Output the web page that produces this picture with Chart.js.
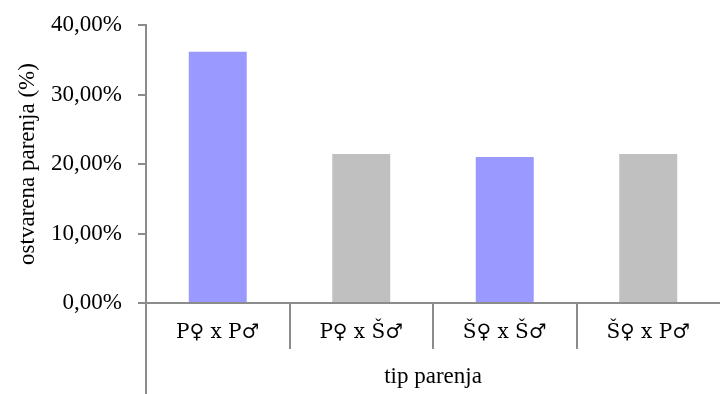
<!DOCTYPE html>
<html>
<head>
<meta charset="utf-8">
<script src="https://cdn.jsdelivr.net/npm/chart.js@4/dist/chart.umd.min.js"></script>
<style>
  html, body { margin: 0; padding: 0; background: #ffffff; overflow: hidden; }
  canvas { display: block; }
</style>
</head>
<body>
<canvas id="chart" width="720" height="394"></canvas>
<script>
// Mating success by mating type
const categories = ['P\u2640 x P\u2642', 'P\u2640 x \u0160\u2642', '\u0160\u2640 x \u0160\u2642', '\u0160\u2640 x P\u2642'];
const successRate = [36.15, 21.45, 21.0, 21.45];
const barColors = ['#9999ff', '#c0c0c0', '#9999ff', '#c0c0c0'];
const yTicks = [0, 10, 20, 30, 40];

const AXIS_COLOR = '#8c8c8c';
const FONT = { family: '"Liberation Serif", "Times New Roman", serif', size: 23 };
const CAT_FONT = { family: '"DejaVu Serif", serif', size: 20 };

// The value axis line continues below the category axis to the canvas edge
const axisExtend = {
  id: 'axisExtend',
  afterDraw(chart) {
    const { ctx, chartArea, height } = chart;
    const x0 = chart.scales.x.left;
    ctx.save();
    ctx.strokeStyle = AXIS_COLOR;
    ctx.lineWidth = 2;
    ctx.beginPath();
    ctx.moveTo(x0, chartArea.bottom);
    ctx.lineTo(x0, height);
    ctx.stroke();
    ctx.restore();
  }
};

new Chart(document.getElementById('chart'), {
  type: 'bar',
  data: {
    labels: categories,
    datasets: [{
      data: successRate,
      backgroundColor: barColors,
      borderWidth: 0,
      barPercentage: 0.404,
      categoryPercentage: 1.0
    }]
  },
  options: {
    responsive: false,
    animation: false,
    layout: { padding: { top: 25, right: -10, left: 0, bottom: 0 } },
    plugins: { legend: { display: false }, tooltip: { enabled: false } },
    scales: {
      x: {
        afterFit(scale) { scale.height = 91; },
        border: { display: true, color: AXIS_COLOR, width: 2 },
        grid: {
          offset: true,
          drawOnChartArea: false,
          tickLength: 46,
          lineWidth: 2,
          color: (ctx) => ctx.type === 'tick' ? AXIS_COLOR : 'rgba(0,0,0,0)'
        },
        ticks: { color: '#000', font: CAT_FONT, padding: -28, maxRotation: 0 },
        title: {
          display: true,
          text: 'tip parenja',
          color: '#000',
          font: FONT,
          padding: { top: 0, bottom: 3 }
        }
      },
      y: {
        min: 0,
        max: 40,
        afterFit(scale) {
          scale.width = 146;
          scale.paddingTop = 0;
          scale.paddingBottom = 0;
        },
        afterBuildTicks(scale) { scale.ticks = yTicks.map(v => ({ value: v })); },
        border: { display: true, color: AXIS_COLOR, width: 2 },
        grid: { drawOnChartArea: false, tickLength: 8, lineWidth: 2, color: AXIS_COLOR },
        ticks: {
          color: '#000',
          font: FONT,
          padding: 16,
          callback: (v) => v.toFixed(2).replace('.', ',') + '%'
        },
        title: {
          display: true,
          text: 'ostvarena parenja (%)',
          color: '#000',
          font: FONT,
          padding: { top: 14, bottom: 0 }
        }
      }
    }
  },
  plugins: [axisExtend]
});
</script>
</body>
</html>
